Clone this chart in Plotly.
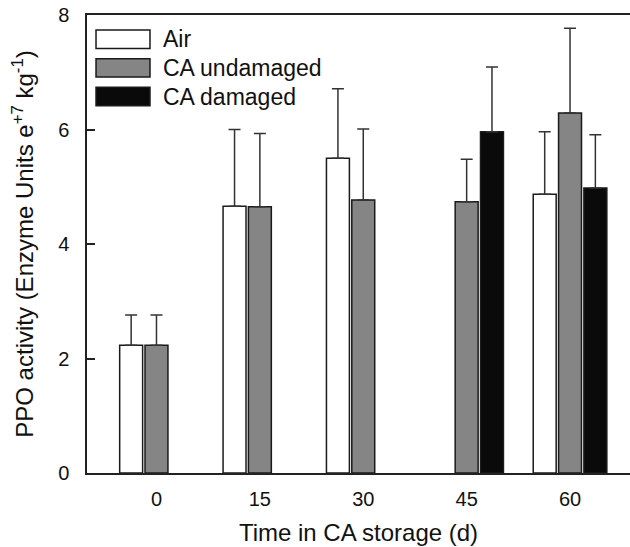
import plotly.graph_objects as go

days = ["0", "15", "30", "45", "60"]
series_names = ["Air", "CA undamaged", "CA damaged"]
air = [2.23, 4.66, 5.50, None, 4.87]
air_err = [0.53, 1.34, 1.21, None, 1.09]
ca_undamaged = [2.23, 4.65, 4.77, 4.74, 6.29]
ca_undamaged_err = [0.53, 1.28, 1.24, 0.74, 1.48]
ca_damaged = [None, None, None, 5.96, 4.98]
ca_damaged_err = [None, None, None, 1.13, 0.93]
colors = ["#ffffff", "#858585", "#0a0a0a"]
y_ticks = [0, 2, 4, 6, 8]

FONT = "Liberation Sans, Arial, sans-serif"
xpos = list(range(len(days)))

fig = go.Figure()
for name, vals, errs, col in zip(series_names,
                                  [air, ca_undamaged, ca_damaged],
                                  [air_err, ca_undamaged_err, ca_damaged_err],
                                  colors):
    fig.add_trace(go.Bar(
        x=xpos, y=vals, name=name,
        marker=dict(color=col, line=dict(color="#1a1a1a", width=1.5)),
        error_y=dict(type="data", symmetric=False,
                     array=[e if e is not None else 0 for e in errs],
                     arrayminus=[0] * len(errs),
                     color="#333333", thickness=1.5, width=6),
        showlegend=False,
    ))

# Custom legend (wide boxes like the original)
x0, x1 = 0.0166, 0.116
row_top = 0.967
box_h = 0.040
step = 0.0625
for i, (name, col) in enumerate(zip(series_names, colors)):
    yt = row_top - i * step
    fig.add_shape(type="rect", xref="paper", yref="paper",
                  x0=x0, x1=x1, y0=yt - box_h, y1=yt,
                  fillcolor=col, line=dict(color="#1a1a1a", width=1.5))
    fig.add_annotation(xref="paper", yref="paper", x=0.137, y=yt - box_h / 2,
                       text=name, showarrow=False, xanchor="left", yanchor="middle",
                       font=dict(family=FONT, size=23, color="#111111"))

fig.update_layout(
    width=630, height=547,
    margin=dict(l=87, r=0, t=15, b=74),
    paper_bgcolor="white", plot_bgcolor="white",
    barmode="group", bargap=0.265, bargroupgap=0.094,
    font=dict(family=FONT, size=20, color="#111111"),
)
fig.update_xaxes(
    tickmode="array", tickvals=xpos, ticktext=days,
    range=[-0.672, 4.58],
    showline=True, linecolor="#222222", linewidth=1.5, mirror=True,
    ticks="", showgrid=False, zeroline=False,
    ticklabelstandoff=7,
    tickfont=dict(family=FONT, size=20, color="#111111"),
    title=dict(text="Time in CA storage (d)", standoff=15,
               font=dict(family=FONT, size=24, color="#111111")),
)
fig.update_yaxes(
    range=[0, 8], tickvals=y_ticks,
    showline=True, linecolor="#222222", linewidth=1.5, mirror=False,
    ticks="inside", ticklen=8, tickcolor="#222222", tickwidth=1.5,
    showgrid=False, zeroline=False,
    ticklabelstandoff=12,
    tickfont=dict(family=FONT, size=20, color="#111111"),
    title=dict(text="PPO activity (Enzyme Units e<sup>+7</sup> kg<sup>-1</sup>)",
               standoff=18, font=dict(family=FONT, size=24, color="#111111")),
)

fig.write_html("out.html")
